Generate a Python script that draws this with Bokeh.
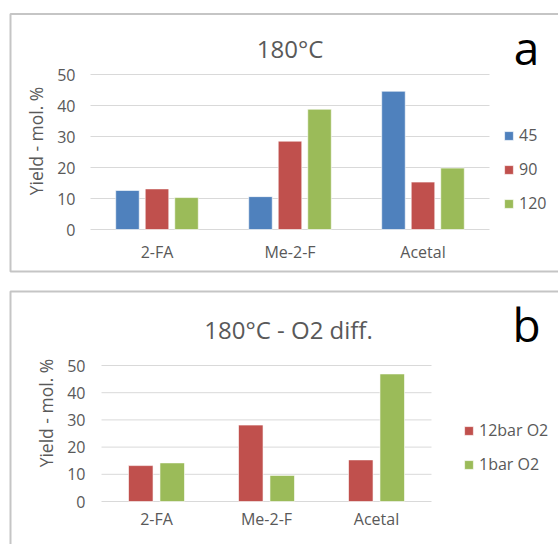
from bokeh.plotting import figure
from bokeh.models import (Range1d, FixedTicker, Label, Legend, LegendItem,
                          BoxAnnotation, ColumnDataSource)
from bokeh.transform import dodge
from bokeh.layouts import column
from bokeh.embed import file_html
from bokeh.resources import INLINE

# ---- data ----
categories = ["2-FA", "Me-2-F", "Acetal"]
a_series = ["45", "90", "120"]
a_45 = [12.6, 10.6, 44.6]
a_90 = [13.1, 28.5, 15.3]
a_120 = [10.3, 38.8, 19.8]
b_series = ["12bar O2", "1bar O2"]
b_12bar = [13.2, 28.1, 15.3]
b_1bar = [14.2, 9.6, 46.9]
y_ticks = [0, 10, 20, 30, 40, 50]
title_a = "180°C"
title_b = "180°C - O2 diff."
y_label = "Yield - mol. %"

FONT = "Open Sans"
TXT = "#595959"
BLUE, RED, GREEN = "#4f81bd", "#c0504d", "#9bbb59"
BORDER = "#404040"
W = 558


def panel(height, frame_left, frame_bottom, px_per_cat, px_per_unit):
    """Figure whose frame covers the whole canvas; plot area placed via ranges."""
    x0 = -frame_left / px_per_cat
    x1 = (W - frame_left) / px_per_cat
    y0 = -(height - frame_bottom) / px_per_unit
    y1 = frame_bottom / px_per_unit
    p = figure(width=W, height=height, x_range=Range1d(x0, x1), y_range=Range1d(y0, y1),
               output_backend="svg", toolbar_location=None,
               min_border=0, min_border_left=0, min_border_right=0,
               min_border_top=0, min_border_bottom=0)
    p.outline_line_color = None
    p.grid.visible = False
    p.xaxis.fixed_location = 0
    p.yaxis.fixed_location = 0
    p.yaxis.ticker = FixedTicker(ticks=y_ticks)
    centers = [i + 0.5 for i in range(len(categories))]
    p.xaxis.ticker = FixedTicker(ticks=centers)
    p.xaxis.major_label_overrides = {c: name for c, name in zip(centers, categories)}
    for ax in (p.xaxis[0], p.yaxis[0]):
        ax.axis_line_color = None
        ax.major_tick_line_color = None
        ax.minor_tick_line_color = None
        ax.major_tick_out = 0
        ax.major_tick_in = 0
        ax.major_label_text_font = FONT
        ax.major_label_text_font_size = "16px"
        ax.major_label_text_color = TXT
    p.yaxis.axis_label = y_label
    p.yaxis.axis_label_text_font = FONT
    p.yaxis.axis_label_text_font_size = "17.5px"
    p.yaxis.axis_label_text_font_style = "normal"
    p.yaxis.axis_label_text_color = TXT
    # horizontal gridlines across the category area
    n = len(categories)
    p.segment(x0=[0] * len(y_ticks), x1=[n] * len(y_ticks), y0=y_ticks, y1=y_ticks,
              line_color="#d9d9d9", line_width=1)
    return p, centers


def add_legend(p, items, x, y):
    lg = Legend(items=items, location=(x, y), orientation="vertical",
                padding=0, margin=0, spacing=12, label_height=22,
                glyph_width=11, glyph_height=11, label_standoff=5,
                border_line_color=None, background_fill_alpha=0,
                label_text_font=FONT, label_text_font_size="16px",
                label_text_color=TXT)
    p.add_layout(lg)


def add_text(p, x, y, text, size, color):
    p.add_layout(Label(x=x, y=y, x_units="screen", y_units="screen", text=text,
                       text_align="center", text_baseline="alphabetic", text_font=FONT,
                       text_font_size=size, text_color=color))


# ---- panel a ----
HA = 281
pa, ca = panel(HA, 90, 229, 133, 3.1)
pa.yaxis.major_label_standoff = 15
pa.yaxis.axis_label_standoff = 6
pa.xaxis.major_label_standoff = 11
src_a = ColumnDataSource(dict(x=ca, s45=a_45, s90=a_90, s120=a_120))
ra = []
for key, off, col in (("s45", -0.222, BLUE), ("s90", 0.0, RED), ("s120", 0.222, GREEN)):
    ra.append(pa.vbar(x=dodge("x", off), top=key, bottom=0, width=0.177,
                      source=src_a, fill_color=col, line_color="white", line_alpha=0.6,
                      line_width=1))
add_legend(pa, [LegendItem(label=s, renderers=[r]) for s, r in zip(a_series, ra)], 503, 67)
add_text(pa, 289.5, HA - 48, title_a, "24px", TXT)
add_text(pa, 526, HA - 46, "a", "46px", "#000000")
pa.add_layout(BoxAnnotation(left=10, right=700, top=HA - 13.5, bottom=HA - 271,
                            left_units="screen", right_units="screen",
                            top_units="screen", bottom_units="screen",
                            fill_alpha=0, line_color=BORDER, line_width=2))

# ---- panel b ----
HB = 263
pb, cb = panel(HB, 101, 220, 110, 2.72)
pb.yaxis.major_label_standoff = 16
pb.yaxis.axis_label_standoff = 6
pb.xaxis.major_label_standoff = 6
src_b = ColumnDataSource(dict(x=cb, s12=b_12bar, s1=b_1bar))
rb = []
for key, off, col in (("s12", -0.143, RED), ("s1", 0.143, GREEN)):
    rb.append(pb.vbar(x=dodge("x", off), top=key, bottom=0, width=0.223,
                      source=src_b, fill_color=col, line_color="white", line_alpha=0.6,
                      line_width=1))
add_legend(pb, [LegendItem(label=s, renderers=[r]) for s, r in zip(b_series, rb)], 463, 69)
add_text(pb, 288, HB - 48, title_b, "24px", TXT)
add_text(pb, 526, HB - 42, "b", "46px", "#000000")
pb.add_layout(BoxAnnotation(left=10, right=700, top=HB - 10, bottom=-50,
                            left_units="screen", right_units="screen",
                            top_units="screen", bottom_units="screen",
                            fill_alpha=0, line_color=BORDER, line_width=2))

layout = column(pa, pb, spacing=0)
open("out.html", "w").write(file_html(layout, INLINE))
